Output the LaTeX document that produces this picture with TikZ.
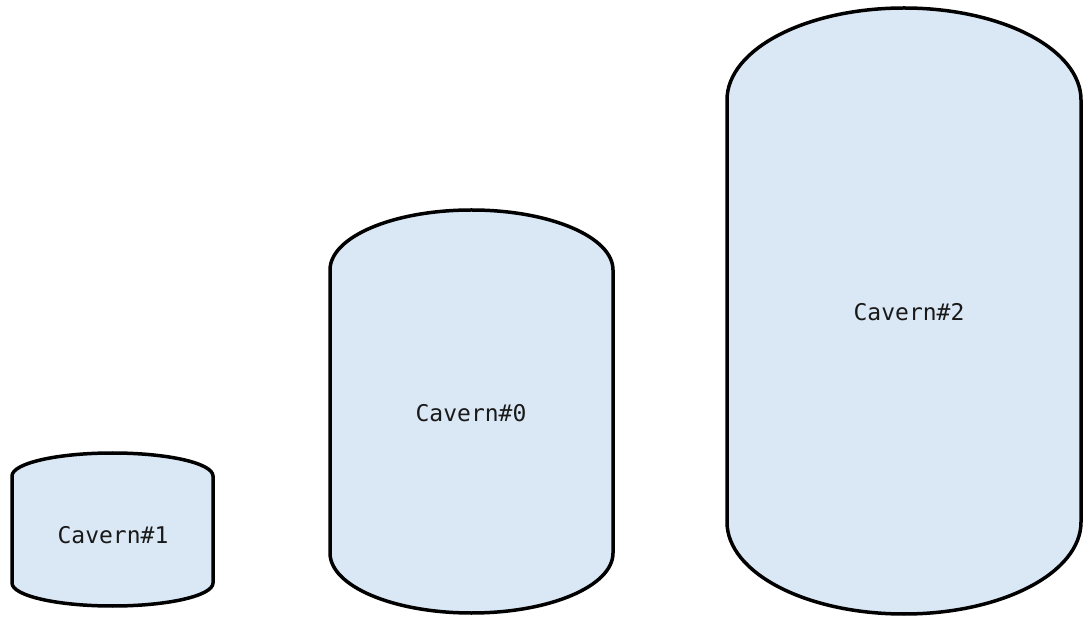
\documentclass[tikz,border=0pt]{standalone}
\usepackage{fontspec}
\newfontfamily\cavfont{DejaVu Sans Mono}
\definecolor{cavfill}{HTML}{DAE8F5}
\tikzset{
  cavern/.style={draw=black, line width=3.5pt, fill=cavfill, line join=round},
  cavlabel/.style={font=\cavfont\fontsize{23}{27}\selectfont, text=black!90, inner sep=0pt}
}
\begin{document}
\begin{tikzpicture}[x=1pt,y=1pt]
\useasboundingbox (0,0) rectangle (1084,616);
% Cavern#1
\draw[cavern] (12,33) -- (12,140) arc[start angle=180,end angle=0,x radius=100.5pt,y radius=23pt]
  -- (213,33) arc[start angle=0,end angle=-180,x radius=100.5pt,y radius=23pt] -- cycle;
\node[cavlabel] (c1) at (113,81) {Cavern\#1};
% Cavern#0
\draw[cavern] (330,63) -- (330,346) arc[start angle=180,end angle=0,x radius=141.5pt,y radius=60pt]
  -- (613,63) arc[start angle=0,end angle=-180,x radius=141.5pt,y radius=60pt] -- cycle;
\node[cavlabel] (c0) at (471,203) {Cavern\#0};
% Cavern#2
\draw[cavern] (727,94) -- (727,516) arc[start angle=180,end angle=0,x radius=177pt,y radius=92pt]
  -- (1081,94) arc[start angle=0,end angle=-180,x radius=177pt,y radius=92pt] -- cycle;
\node[cavlabel] (c2) at (909,304) {Cavern\#2};
\end{tikzpicture}
\end{document}
